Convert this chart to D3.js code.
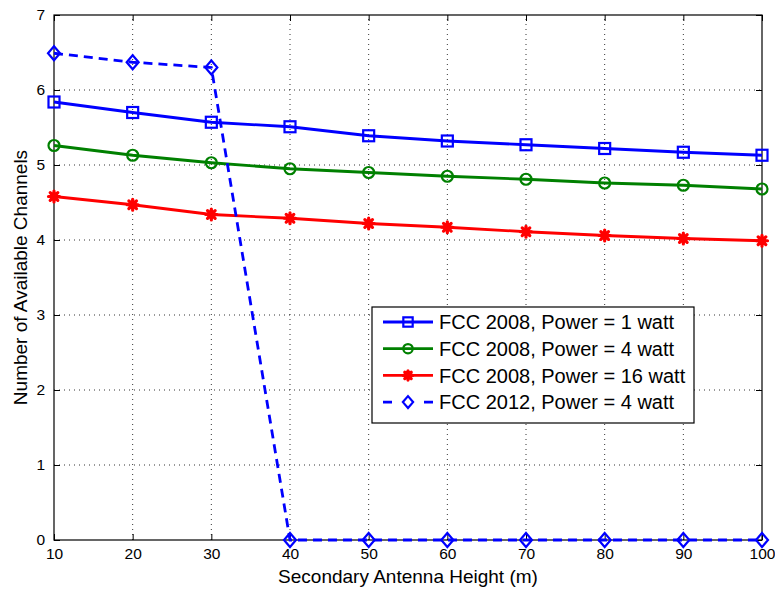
<!DOCTYPE html>
<html>
<head>
<meta charset="utf-8">
<script src="https://cdn.jsdelivr.net/npm/d3@7"></script>
<style>
  html, body { margin: 0; padding: 0; background: #fff; }
  svg text { font-family: "Liberation Sans", Arial, Helvetica, sans-serif; fill: #000; }
</style>
</head>
<body>
<svg id="chart" width="775" height="589"></svg>
<script>
// Antenna heights (m)
const heights = [10, 20, 30, 40, 50, 60, 70, 80, 90, 100];

// Number of available channels per scenario
const fcc2008_1w  = [5.84, 5.70, 5.57, 5.51, 5.39, 5.32, 5.27, 5.22, 5.17, 5.13];
const fcc2008_4w  = [5.26, 5.13, 5.03, 4.95, 4.90, 4.85, 4.81, 4.76, 4.73, 4.68];
const fcc2008_16w = [4.58, 4.47, 4.34, 4.29, 4.22, 4.17, 4.11, 4.06, 4.02, 3.99];
const fcc2012_4w  = [6.49, 6.37, 6.30, 0, 0, 0, 0, 0, 0, 0];

const seriesNames = [
  "FCC 2008, Power = 1 watt",
  "FCC 2008, Power = 4 watt",
  "FCC 2008, Power = 16 watt",
  "FCC 2012, Power = 4 watt"
];

const xTicks = [10, 20, 30, 40, 50, 60, 70, 80, 90, 100];
const yTicks = [0, 1, 2, 3, 4, 5, 6, 7];

const series = [
  { name: seriesNames[0], values: fcc2008_1w,  color: "#0000ff", marker: "square",  dash: null },
  { name: seriesNames[1], values: fcc2008_4w,  color: "#008000", marker: "circle",  dash: null },
  { name: seriesNames[2], values: fcc2008_16w, color: "#ff0000", marker: "star",    dash: null },
  { name: seriesNames[3], values: fcc2012_4w,  color: "#0000ff", marker: "diamond", dash: "9,6" }
];

const svg = d3.select("#chart");
const m = { left: 54, right: 13, top: 15, bottom: 49 };
const W = 775, H = 589;
const x = d3.scaleLinear().domain([10, 100]).range([m.left, W - m.right]);
const y = d3.scaleLinear().domain([0, 7]).range([H - m.bottom, m.top]);

const plot = svg.append("g");

// dotted grid
plot.append("g").selectAll("line").data(xTicks.slice(1, -1)).join("line")
  .attr("x1", d => x(d)).attr("x2", d => x(d))
  .attr("y1", y(0)).attr("y2", y(7))
  .attr("stroke", "#000").attr("stroke-width", 0.8).attr("stroke-dasharray", "1,4");
plot.append("g").selectAll("line").data(yTicks.slice(1, -1)).join("line")
  .attr("y1", d => y(d)).attr("y2", d => y(d))
  .attr("x1", x(10)).attr("x2", x(100))
  .attr("stroke", "#000").attr("stroke-width", 0.8).attr("stroke-dasharray", "1,4");

// axes (ticks inward on all four sides)
const tk = 6;
const axB = d3.axisBottom(x).tickValues(xTicks).tickSize(-tk).tickPadding(8).tickFormat(d3.format("d"));
const axT = d3.axisTop(x).tickValues(xTicks).tickSize(-tk).tickFormat("");
const axL = d3.axisLeft(y).tickValues(yTicks).tickSize(-tk).tickPadding(9).tickFormat(d3.format("d"));
const axR = d3.axisRight(y).tickValues(yTicks).tickSize(-tk).tickFormat("");

function style(g) {
  g.attr("font-size", null).attr("font-family", null);
  g.select(".domain").remove();
  g.selectAll(".tick line").attr("stroke", "#000").attr("stroke-width", 1);
  g.selectAll(".tick text").style("font-size", "15.5px").attr("fill", "#000");
}
svg.append("g").attr("transform", `translate(0,${y(0)})`).call(axB).call(style);
svg.append("g").attr("transform", `translate(0,${y(7)})`).call(axT).call(style);
svg.append("g").attr("transform", `translate(${x(10)},0)`).call(axL).call(style);
svg.append("g").attr("transform", `translate(${x(100)},0)`).call(axR).call(style);

svg.append("rect")
  .attr("x", x(10)).attr("y", y(7))
  .attr("width", x(100) - x(10)).attr("height", y(0) - y(7))
  .attr("fill", "none").attr("stroke", "#000").attr("stroke-width", 1.2);

// markers
function drawMarker(g, type, color, cx, cy, k = 1) {
  if (type === "square") {
    const s = 5.5 * k;
    g.append("rect").attr("x", cx - s).attr("y", cy - s).attr("width", 2 * s).attr("height", 2 * s)
      .attr("fill", "none").attr("stroke", color).attr("stroke-width", 2.2);
  } else if (type === "circle") {
    g.append("circle").attr("cx", cx).attr("cy", cy).attr("r", 5.5 * k)
      .attr("fill", "none").attr("stroke", color).attr("stroke-width", 2.2);
  } else if (type === "diamond") {
    const h = 7 * k, w = 6 * k;
    g.append("path").attr("d", `M${cx},${cy - h}L${cx + w},${cy}L${cx},${cy + h}L${cx - w},${cy}Z`)
      .attr("fill", "none").attr("stroke", color).attr("stroke-width", 2.2);
  } else if (type === "star") {
    // thick asterisk: plus and cross strokes around a solid core
    const a = 5.5 * k, b = 3.8 * k;
    g.append("path")
      .attr("d", `M${cx - a},${cy}L${cx + a},${cy}M${cx},${cy - a}L${cx},${cy + a}` +
                 `M${cx - b},${cy - b}L${cx + b},${cy + b}M${cx - b},${cy + b}L${cx + b},${cy - b}`)
      .attr("fill", "none").attr("stroke", color).attr("stroke-width", 3.2).attr("stroke-linecap", "round");
    g.append("circle").attr("cx", cx).attr("cy", cy).attr("r", 4.3 * k).attr("fill", color);
  }
}

const line = d3.line().x((d, i) => x(heights[i])).y(d => y(d));
const lines = svg.append("g");
series.forEach(s => {
  lines.append("path").datum(s.values)
    .attr("d", line)
    .attr("fill", "none").attr("stroke", s.color).attr("stroke-width", 2.8)
    .attr("stroke-dasharray", s.dash);
  const mg = lines.append("g");
  s.values.forEach((v, i) => drawMarker(mg, s.marker, s.color, x(heights[i]), y(v)));
});

// legend
const lg = svg.append("g");
const lx = 372, ly = 307, lw = 322, lh = 116;
lg.append("rect").attr("x", lx).attr("y", ly).attr("width", lw).attr("height", lh)
  .attr("fill", "#fff").attr("stroke", "#000").attr("stroke-width", 1.2);
series.forEach((s, i) => {
  const ry = 322 + i * 26.7;
  lg.append("line").attr("x1", 383).attr("x2", 433).attr("y1", ry).attr("y2", ry)
    .attr("stroke", s.color).attr("stroke-width", 2.8).attr("stroke-dasharray", s.dash ? "9,32" : null);
  drawMarker(lg, s.marker, s.color, 408, ry, 0.85);
  lg.append("text").attr("x", 439).attr("y", ry).attr("dy", "0.36em")
    .style("font-size", "20px").text(s.name);
});

// axis titles
svg.append("text").attr("x", (x(10) + x(100)) / 2).attr("y", 583)
  .attr("text-anchor", "middle").style("font-size", "19px").text("Secondary Antenna Height (m)");
svg.append("text").attr("transform", `translate(27,${(y(0) + y(7)) / 2}) rotate(-90)`)
  .attr("text-anchor", "middle").style("font-size", "19px").text("Number of Available Channels");
</script>
</body>
</html>
